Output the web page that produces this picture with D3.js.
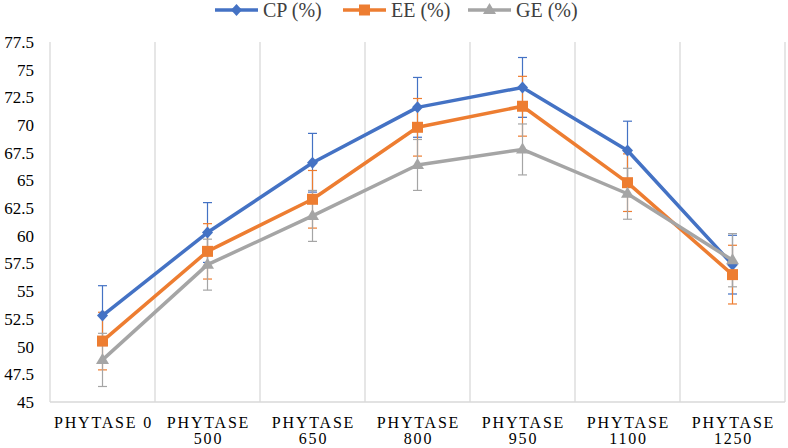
<!DOCTYPE html>
<html><head><meta charset="utf-8">
<script src="https://cdn.jsdelivr.net/npm/d3@7"></script>
<style>
html,body{margin:0;padding:0;background:#fff;}
svg{display:block;}
svg text{font-family:"Liberation Serif","Times New Roman",Tinos,"DejaVu Serif","Noto Serif",serif !important;}
</style></head>
<body>
<svg id="chart" width="788" height="448"></svg>
<script>
const categories = ["PHYTASE 0","PHYTASE 500","PHYTASE 650","PHYTASE 800","PHYTASE 950","PHYTASE 1100","PHYTASE 1250"];
const seriesNames = ["CP (%)","EE (%)","GE (%)"];
const cpValues = [52.8, 60.3, 66.6, 71.6, 73.4, 67.7, 57.4];
const eeValues = [50.5, 58.6, 63.3, 69.8, 71.7, 64.8, 56.5];
const geValues = [48.8, 57.4, 61.8, 66.4, 67.8, 63.8, 57.8];
const cpErr = [2.7, 2.7, 2.65, 2.7, 2.7, 2.65, 2.65];
const eeErr = [2.6, 2.5, 2.6, 2.6, 2.7, 2.6, 2.65];
const geErr = [2.4, 2.3, 2.3, 2.3, 2.3, 2.3, 2.4];
const yTicks = [45,47.5,50,52.5,55,57.5,60,62.5,65,67.5,70,72.5,75,77.5];

const colors = ["#4472C4","#ED7D31","#A5A5A5"];
const markers = ["diamond","square","triangle"];
const series = [
  {name: seriesNames[0], values: cpValues, err: cpErr, color: colors[0], marker: markers[0]},
  {name: seriesNames[1], values: eeValues, err: eeErr, color: colors[1], marker: markers[1]},
  {name: seriesNames[2], values: geValues, err: geErr, color: colors[2], marker: markers[2]}
];

const FONT = '"Liberation Serif","Times New Roman",Tinos,"DejaVu Serif","Noto Serif",serif';
const svg = d3.select("#chart").attr("font-family", FONT);
const M = {left: 50, right: 785, top: 42, bottom: 402};

const x = d3.scaleBand().domain(categories).range([M.left, M.right]).padding(0);
const y = d3.scaleLinear().domain([45, 77.5]).range([M.bottom, M.top]);

// vertical gridlines at category boundaries
const bounds = categories.map(c => x(c)).concat([M.right]);
svg.append("g").selectAll("line").data(bounds).join("line")
  .attr("x1", d => d).attr("x2", d => d)
  .attr("y1", M.top).attr("y2", M.bottom)
  .attr("stroke", "#D9D9D9").attr("stroke-width", 1.3);

// bottom axis line
svg.append("line").attr("x1", M.left).attr("x2", M.right)
  .attr("y1", M.bottom).attr("y2", M.bottom)
  .attr("stroke", "#D9D9D9").attr("stroke-width", 1.3);

// y axis labels
const yAxis = d3.axisLeft(y).tickValues(yTicks).tickSize(0).tickPadding(0)
  .tickFormat(d => String(d));
const yg = svg.append("g").attr("transform", `translate(${M.left - 16},0)`).call(yAxis);
yg.attr("font-family", FONT);
yg.select(".domain").remove();
yg.selectAll("text").attr("font-size", "17px").attr("fill", "#000");

// x labels
const xl = svg.append("g");
categories.forEach(c => {
  const parts = c.split(" ");
  const cx = x(c) + x.bandwidth() / 2;
  const single = (c === "PHYTASE 0");
  const t = xl.append("text").attr("text-anchor", "middle")
    .attr("font-size", "16px").attr("letter-spacing", "1.8px").attr("fill", "#000");
  if (single) {
    t.append("tspan").attr("x", cx + 1).attr("y", 428).text(c);
  } else {
    t.append("tspan").attr("x", cx + 1).attr("y", 428).text(parts[0]);
    t.append("tspan").attr("x", cx + 1).attr("y", 444).text(parts[1]);
  }
});

// error bars (underneath)
const cap = 4.5;
series.forEach(s => {
  const g = svg.append("g").attr("stroke", s.color).attr("stroke-width", 1.2);
  s.values.forEach((v, i) => {
    const cx = x(categories[i]) + x.bandwidth() / 2;
    const y1 = y(v + s.err[i]), y2 = y(v - s.err[i]);
    g.append("line").attr("x1", cx).attr("x2", cx).attr("y1", y1).attr("y2", y2);
    g.append("line").attr("x1", cx - cap).attr("x2", cx + cap).attr("y1", y1).attr("y2", y1);
    g.append("line").attr("x1", cx - cap).attr("x2", cx + cap).attr("y1", y2).attr("y2", y2);
  });
});

function markerPath(type) {
  if (type === "diamond") return "M0,-6L5.5,0L0,6L-5.5,0Z";
  if (type === "square") return "M-5.5,-5.5H5.5V5.5H-5.5Z";
  return "M0,-6L6.5,5L-6.5,5Z";
}

const line = d3.line().x((d, i) => x(categories[i]) + x.bandwidth() / 2).y(d => y(d));

series.forEach(s => {
  svg.append("path").datum(s.values).attr("d", line)
    .attr("fill", "none").attr("stroke", s.color).attr("stroke-width", 3.5)
    .attr("stroke-linejoin", "round");
  svg.append("g").selectAll("path").data(s.values).join("path")
    .attr("transform", (d, i) => `translate(${x(categories[i]) + x.bandwidth() / 2},${y(d) - (s.marker === "triangle" ? 1 : 0)})`)
    .attr("d", markerPath(s.marker)).attr("fill", s.color);
});

// legend
const legendX = [215, 343, 468];
series.forEach((s, i) => {
  const g = svg.append("g").attr("transform", `translate(${legendX[i]},10)`);
  g.append("line").attr("x1", 0).attr("x2", 43).attr("y1", 0).attr("y2", 0)
    .attr("stroke", s.color).attr("stroke-width", 3.5);
  g.append("path").attr("transform", `translate(21.5,${s.marker === "triangle" ? -1 : 0})`)
    .attr("d", markerPath(s.marker)).attr("fill", s.color);
  g.append("text").attr("x", 48).attr("y", 7).attr("font-size", "20px")
    .attr("fill", "#404040").text(s.name);
});
</script>
</body></html>
